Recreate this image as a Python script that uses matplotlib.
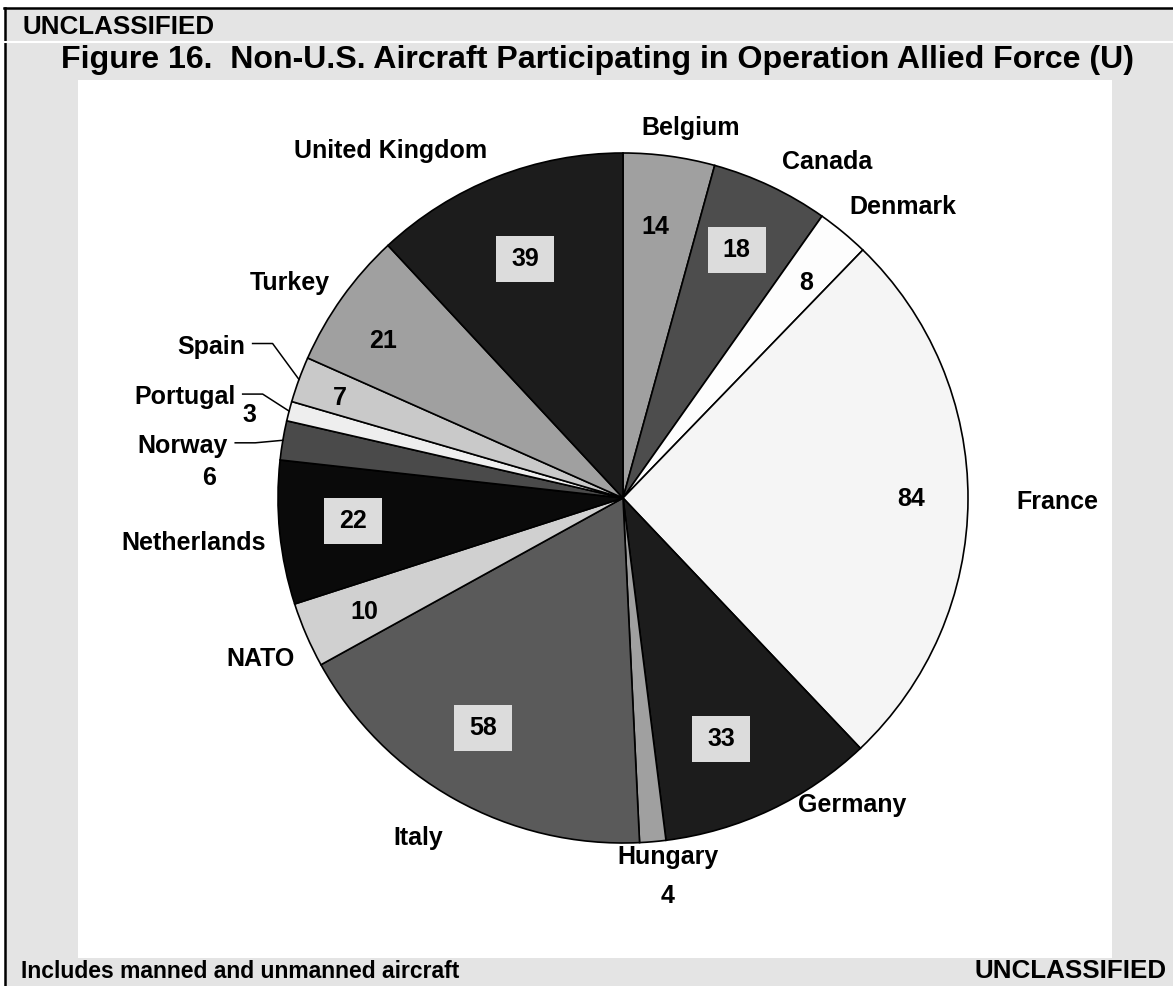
import numpy as np
import matplotlib.pyplot as plt
from matplotlib.patches import Rectangle

plt.rcParams['font.family'] = ['Liberation Sans', 'DejaVu Sans']
plt.rcParams['font.weight'] = 'bold'

# data
countries = ["Belgium", "Canada", "Denmark", "France", "Germany", "Hungary", "Italy",
             "NATO", "Netherlands", "Norway", "Portugal", "Spain", "Turkey", "United Kingdom"]
aircraft = [14, 18, 8, 84, 33, 4, 58, 10, 22, 6, 3, 7, 21, 39]

# style / layout
slice_colors = ["#a0a0a0", "#4d4d4d", "#fdfdfd", "#f5f5f5", "#1c1c1c", "#a0a0a0", "#5a5a5a",
                "#d0d0d0", "#0a0a0a", "#4a4a4a", "#eeeeee", "#c9c9c9", "#a0a0a0", "#1c1c1c"]
boxed = [False, True, False, False, True, False, True, False, True, False, False, False, False, True]
value_r = [0.79, 0.79, 0.82, 0.835, 0.755, 1.16, 0.78, 0.82, 0.785, 1.20, 1.11, 0.87, 0.83, 0.75]
value_off = [0.9, 0.7, -0.8, 0, -3.2, 1.5, -2.2, 0.3, -0.9, 6.8, 2.1, 0.6, 2.3, 0.8]
name_r = [1.09, 1.14, 1.17, 1.26, 1.11, 1.05, 1.15, 1.15, 1.25, 1.078, 1.087, 1.11, 1.15, 1.21]
name_off = [-2.6, -5.9, -4.3, -0.2, 11.5, 2.2, -1.9, 0.5, 0.2, 1.1, -1.5, -3.7, 2.7, 12.4]
leader = ["Norway", "Portugal", "Spain"]

W, H = 1173, 986
cx, cy, R = 623, H - 498, 345
fs = 18

fig = plt.figure(figsize=(W / 100, H / 100), dpi=100)
ax = fig.add_axes([0, 0, 1, 1])

# frame and panels
ax.add_patch(Rectangle((0, 0), W, H, fc="white", ec="none"))
ax.add_patch(Rectangle((5, 0), W - 5, H - 8, fc="#e4e4e4", ec="none"))
ax.plot([4, W], [H - 8, H - 8], color="black", lw=1.8)
ax.plot([5, 5], [0, H - 8], color="black", lw=1.8)
ax.plot([0, W], [H - 42, H - 42], color="white", lw=1.5)
ax.add_patch(Rectangle((78, 28), 1034, 878, fc="white", ec="none"))

wedges, _ = ax.pie(aircraft, colors=slice_colors, startangle=90, counterclock=False,
                   center=(cx, cy), radius=R,
                   wedgeprops=dict(edgecolor="black", linewidth=1.2))


def polar(r, deg):
    a = np.deg2rad(deg)
    return cx + r * R * np.cos(a), cy + r * R * np.sin(a)


for i, w in enumerate(wedges):
    mid = (w.theta1 + w.theta2) / 2
    # value
    vx, vy = polar(value_r[i], mid + value_off[i])
    if boxed[i]:
        ax.add_patch(Rectangle((vx - 29, vy - 23), 58, 46, fc="#dcdcdc", ec="none", zorder=3))
    ax.text(vx, vy, str(aircraft[i]), ha="center", va="center", fontsize=fs, zorder=4)
    # name
    nx, ny = polar(name_r[i], mid + name_off[i])
    if countries[i] in leader:
        ex, ey = polar(1.0, mid)
        ax.plot([nx - 20, nx, ex], [ny, ny, ey], color="black", lw=1.1, zorder=4)
        ax.text(nx - 27, ny - 3, countries[i], ha="right", va="center", fontsize=fs, zorder=4)
    else:
        ax.text(nx, ny, countries[i], ha="center", va="center", fontsize=fs, zorder=4)

ax.text(22, H - 26.5, "UNCLASSIFIED", ha="left", va="center", fontsize=18.7)
ax.text(61, H - 60, "Figure 16.  Non-U.S. Aircraft Participating in Operation Allied Force (U)",
        ha="left", va="center", fontsize=23.1)
ax.text(21, H - 971.5, "Includes manned and unmanned aircraft", ha="left", va="center", fontsize=16.5)
ax.text(1167, H - 971.5, "UNCLASSIFIED", ha="right", va="center", fontsize=18.7)

ax.set_xlim(0, W)
ax.set_ylim(0, H)
ax.axis("off")
fig.savefig("out.png", dpi=100)
